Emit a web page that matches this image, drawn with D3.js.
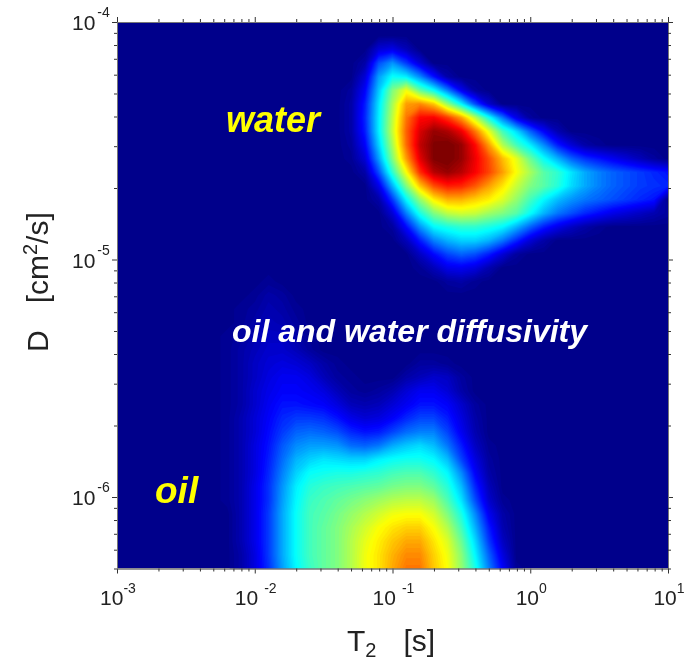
<!DOCTYPE html>
<html>
<head>
<meta charset="utf-8">
<script src="https://cdn.jsdelivr.net/npm/d3@7"></script>
<style>
  body { margin: 0; background: #fff; }
  text { font-family: "Liberation Sans", Arial, sans-serif; }
  svg { filter: blur(0.5px); }
</style>
</head>
<body>
<div id="chart"></div>
<script>
///// DATA /////

// log spacing of the intensity grid: 41 columns over T2, 41 rows over D
var t2Start = 1e-3;
var t2End = 10;
var dStart = 1e-4;
var dEnd = 5e-7;
var gridColumns = 41;
var gridRows = 41;

// each row holds spans of [first column, values...], everything else is 0
var intensitySpans = [
  [],
  [],
  [[19, 8, 10, 5]],
  [[18, 3, 20, 27, 18, 8]],
  [[18, 8, 28, 38, 36, 26, 14, 3]],
  [[17, 2, 12, 32, 50, 61, 47, 38, 25, 11, 2]],
  [[17, 3, 15, 35, 54, 72, 74, 68, 52, 37, 20, 7]],
  [[17, 3, 16, 36, 56, 76, 87, 88, 82, 72, 56, 39, 24, 10, 2]],
  [[17, 3, 15, 36, 57, 78, 91, 97, 95, 89, 76, 60, 44, 34, 22, 12, 4]],
  [[17, 2, 12, 33, 54, 77, 93, 99, 100, 97, 87, 72, 55, 44, 36, 26, 15, 8, 3, 1]],
  [[17, 1, 8, 28, 50, 72, 90, 99, 100, 97, 89, 80, 69, 60, 48, 38, 30, 22, 17, 14, 11, 8, 5, 2]],
  [[18, 3, 20, 42, 62, 83, 94, 97, 94, 88, 81, 72, 62, 54, 46, 42, 35, 29, 25, 22, 20, 18, 16, 14]],
  [[19, 10, 30, 50, 68, 80, 85, 84, 79, 72, 65, 57, 50, 46, 41, 34, 29, 25, 22, 20, 18, 17, 16]],
  [[19, 3, 18, 37, 52, 64, 70, 70, 67, 64, 59, 52, 44, 37, 31, 27, 24, 22, 20, 18, 16, 14]],
  [[20, 8, 25, 40, 50, 56, 58, 57, 53, 50, 46, 38, 30, 24, 20, 16, 13, 10, 8, 6, 4, 2]],
  [[20, 2, 13, 27, 37, 40, 42, 42, 40, 37, 30, 22, 15, 10, 6, 3, 1]],
  [[21, 5, 15, 25, 30, 33, 33, 30, 24, 16, 8, 3]],
  [[22, 6, 13, 19, 22, 20, 15, 8, 2]],
  [[22, 1, 5, 10, 11, 9, 4]],
  [[11, 1], [24, 2, 3, 1]],
  [[10, 1, 3, 2]],
  [[9, 1, 2, 4, 3, 1]],
  [[9, 1, 3, 5, 4, 2]],
  [[8, 1, 2, 4, 6, 6, 3, 1]],
  [[8, 1, 3, 5, 7, 7, 5, 2]],
  [[8, 1, 3, 6, 8, 9, 8, 6, 3, 1], [22, 2, 2, 1]],
  [[8, 1, 3, 6, 9, 11, 11, 9, 5, 2, 1], [21, 3, 5, 7, 6, 2]],
  [[8, 1, 3, 7, 10, 12, 12, 11, 9, 5, 2, 1, 2, 4, 8, 11, 11, 8, 3]],
  [[8, 1, 3, 7, 11, 14, 14, 13, 12, 9, 5, 4, 5, 8, 11, 14, 14, 12, 7, 2]],
  [[8, 1, 4, 8, 12, 16, 18, 18, 17, 14, 10, 8, 9, 12, 16, 19, 19, 15, 9, 3]],
  [[8, 1, 4, 8, 13, 18, 22, 23, 22, 20, 16, 14, 15, 19, 23, 25, 25, 19, 11, 4]],
  [[8, 1, 4, 9, 14, 21, 26, 28, 28, 27, 23, 22, 24, 29, 32, 34, 31, 24, 15, 6, 1]],
  [[8, 1, 4, 9, 15, 23, 30, 33, 35, 34, 33, 33, 36, 38, 39, 39, 37, 31, 19, 9, 2]],
  [[8, 1, 4, 9, 16, 25, 33, 38, 39, 40, 40, 41, 42, 44, 45, 45, 42, 37, 26, 12, 3]],
  [[8, 1, 4, 10, 17, 27, 36, 41, 43, 44, 45, 46, 47, 49, 50, 50, 47, 41, 31, 16, 5]],
  [[8, 1, 4, 10, 17, 28, 37, 43, 45, 47, 49, 51, 53, 55, 56, 56, 53, 45, 35, 20, 7, 1]],
  [[9, 4, 10, 18, 29, 38, 44, 46, 49, 52, 55, 58, 61, 62, 62, 58, 50, 40, 26, 11, 3]],
  [[9, 4, 10, 18, 29, 38, 44, 47, 50, 54, 58, 62, 65, 67, 67, 62, 55, 44, 30, 15, 4]],
  [[9, 4, 10, 18, 29, 38, 44, 47, 50, 55, 60, 64, 68, 71, 71, 65, 59, 48, 34, 18, 6]],
  [[9, 3, 9, 18, 29, 38, 44, 47, 50, 55, 61, 65, 70, 74, 74, 67, 61, 51, 37, 22, 9]],
  [[9, 3, 9, 17, 28, 37, 43, 47, 50, 55, 61, 65, 71, 76, 76, 68, 62, 52, 40, 25, 12, 1]]
];

// axis ticks and labels
var t2Ticks = [1e-3, 1e-2, 1e-1, 1, 10];
var t2Exponents = ["-3", "-2", "-1", "0", "1"];
var dTicks = [1e-4, 1e-5, 1e-6];
var dExponents = ["-4", "-5", "-6"];

///// CANVAS /////

var width = 688;
var height = 662;

var thisCanvas = d3.select("#chart").append("svg")
  .attr("width", width)
  .attr("height", height)
  .style("display", "block");

thisCanvas.append("rect")
  .attr("width", "100%")
  .attr("height", "100%")
  .attr("fill", "#fff");

var margin = { top: 22, right: 20, bottom: 93.5, left: 117 };

var x = d3.scaleLog()
  .domain([t2Start, t2End])
  .range([margin.left, width - margin.right]);

var y = d3.scaleLog()
  .domain([dStart, dEnd])
  .range([margin.top, height - margin.bottom]);

// jet colour map, same look as the original plot
var color = d3.scaleLinear()
  .domain([0, 12.5, 37.5, 62.5, 87.5, 99])
  .range(["#00008b", "#0000ff", "#00ffff", "#ffff00", "#ff0000", "#800000"])
  .clamp(true);

///// HEAT MAP /////

// expand the spans into the flat grid d3.contours wants
var grid = new Array(gridColumns * gridRows).fill(0);
intensitySpans.forEach(function (spans, row) {
  spans.forEach(function (span) {
    span.slice(1).forEach(function (v, k) {
      grid[row * gridColumns + span[0] + k] = v;
    });
  });
});

var levels = d3.range(0.5, 100, 1);

var contours = d3.contours()
  .size([gridColumns, gridRows])
  .thresholds(levels)(grid);

var logT2 = d3.scaleLinear()
  .domain([0.5, gridColumns - 0.5])
  .range([Math.log10(t2Start), Math.log10(t2End)]);

var logD = d3.scaleLinear()
  .domain([0.5, gridRows - 0.5])
  .range([Math.log10(dStart), Math.log10(dEnd)]);

var gridToScreen = d3.geoTransform({
  point: function (gx, gy) {
    this.stream.point(x(Math.pow(10, logT2(gx))), y(Math.pow(10, logD(gy))));
  }
});

thisCanvas.append("clipPath")
  .attr("id", "plotClip")
  .append("rect")
  .attr("x", x.range()[0])
  .attr("y", y.range()[0])
  .attr("width", x.range()[1] - x.range()[0])
  .attr("height", y.range()[1] - y.range()[0]);

var plot = thisCanvas.append("g").attr("clip-path", "url(#plotClip)");

plot.append("rect")
  .attr("x", x.range()[0])
  .attr("y", y.range()[0])
  .attr("width", x.range()[1] - x.range()[0])
  .attr("height", y.range()[1] - y.range()[0])
  .attr("fill", color(0));

plot.selectAll("path")
  .data(contours)
  .enter()
  .append("path")
  .attr("d", d3.geoPath(gridToScreen))
  .attr("fill", function (d) { return color(d.value + 0.5); });

///// AXES /////

function styleAxis(g) {
  g.select(".domain").attr("stroke", "#777").attr("stroke-width", 1);
  g.selectAll("line").attr("stroke", "#333").attr("stroke-width", 1);
}

function isMajor(list) {
  return function (v) {
    return list.some(function (m) { return Math.abs(m / v - 1) < 1e-6; });
  };
}

var t2Minor = x.ticks().filter(function (v) { return !isMajor(t2Ticks)(v); });
var dMinor = y.ticks().filter(function (v) { return !isMajor(dTicks)(v); });

function drawAxis(axisFn, scale, translate, majors, minors) {
  [[majors, 5], [minors, 3]].forEach(function (pair) {
    thisCanvas.append("g")
      .attr("transform", translate)
      .call(axisFn(scale).tickValues(pair[0]).tickSize(pair[1]).tickSizeOuter(0).tickFormat(""))
      .call(styleAxis);
  });
}

drawAxis(d3.axisBottom, x, "translate(0," + y.range()[1] + ")", t2Ticks, t2Minor);
drawAxis(d3.axisTop, x, "translate(0," + y.range()[0] + ")", t2Ticks, t2Minor);
drawAxis(d3.axisLeft, y, "translate(" + x.range()[0] + ",0)", dTicks, dMinor);
drawAxis(d3.axisRight, y, "translate(" + x.range()[1] + ",0)", dTicks, dMinor);

///// TICK LABELS /////

var t2Labels = thisCanvas.selectAll(".t2Label")
  .data(t2Ticks)
  .enter()
  .append("text")
  .attr("class", "t2Label")
  .attr("x", function (d) { return x(d) + 1; })
  .attr("y", 605)
  .attr("text-anchor", "middle")
  .attr("fill", "#222")
  .style("font-size", "21px");

t2Labels.append("tspan").text("10");
t2Labels.append("tspan")
  .attr("dx", function (d, i) { return (i === 1 || i === 2) ? 6 : 0; })
  .attr("dy", -12)
  .style("font-size", "14px")
  .text(function (d, i) { return t2Exponents[i]; });

var dLabels = thisCanvas.selectAll(".dLabel")
  .data(dTicks)
  .enter()
  .append("text")
  .attr("class", "dLabel")
  .attr("x", 72)
  .attr("y", function (d) { return y(d) + 8; })
  .attr("fill", "#222")
  .style("font-size", "21px");

dLabels.append("tspan").text("10");
dLabels.append("tspan")
  .attr("dx", 2)
  .attr("dy", -13)
  .style("font-size", "14px")
  .text(function (d, i) { return dExponents[i]; });

///// AXIS TITLES /////

var t2Title = thisCanvas.append("text")
  .attr("x", 347)
  .attr("y", 651)
  .attr("fill", "#222")
  .style("font-size", "30px");

t2Title.append("tspan").text("T");
t2Title.append("tspan").attr("dy", 6).style("font-size", "20px").text("2");
t2Title.append("tspan").attr("dy", -6).attr("dx", 27).text("[s]");

var dTitle = thisCanvas.append("text")
  .attr("transform", "translate(48,352) rotate(-90)")
  .attr("fill", "#222")
  .style("font-size", "30px");

dTitle.append("tspan").text("D");
dTitle.append("tspan").attr("dx", 27).text("[cm");
dTitle.append("tspan").attr("dy", -11).style("font-size", "20px").text("2");
dTitle.append("tspan").attr("dy", 11).text("/s]");

///// ANNOTATIONS /////

function addNote(label, xPos, yPos, size, fill) {
  thisCanvas.append("text")
    .attr("x", xPos)
    .attr("y", yPos)
    .attr("fill", fill)
    .style("font-size", size + "px")
    .style("font-weight", "bold")
    .style("font-style", "italic")
    .text(label);
}

addNote("water", 226, 132, 36, "#ffff00");
addNote("oil", 155, 503, 37, "#ffff00");
addNote("oil and water diffusivity", 232, 342, 32, "#ffffff");
</script>
</body>
</html>
